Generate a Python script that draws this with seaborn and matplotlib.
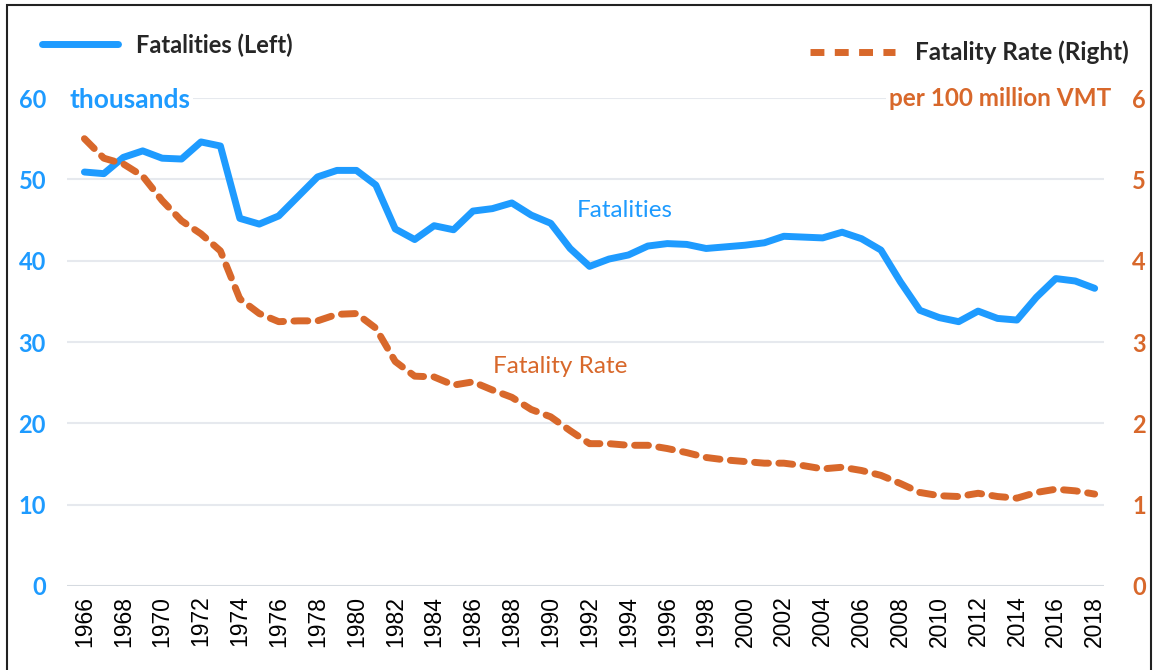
import numpy as np
import pandas as pd
import matplotlib.pyplot as plt
import seaborn as sns
from matplotlib.lines import Line2D
from matplotlib.patches import Rectangle

years = list(range(1966, 2019))
fatalities = [50.9, 50.7, 52.7, 53.5, 52.6, 52.5, 54.6, 54.1, 45.2, 44.5,
              45.5, 47.9, 50.3, 51.1, 51.1, 49.3, 43.9, 42.6, 44.3, 43.8,
              46.1, 46.4, 47.1, 45.6, 44.6, 41.5, 39.3, 40.2, 40.7, 41.8,
              42.1, 42.0, 41.5, 41.7, 41.9, 42.2, 43.0, 42.9, 42.8, 43.5,
              42.7, 41.3, 37.4, 33.9, 33.0, 32.5, 33.8, 32.9, 32.7, 35.5,
              37.8, 37.5, 36.6]
fatality_rate = [5.50, 5.26, 5.19, 5.04, 4.74, 4.49, 4.33, 4.12, 3.53, 3.35,
                 3.25, 3.26, 3.26, 3.34, 3.35, 3.17, 2.76, 2.58, 2.57, 2.47,
                 2.51, 2.41, 2.32, 2.17, 2.08, 1.91, 1.75, 1.75, 1.73, 1.73,
                 1.69, 1.64, 1.58, 1.55, 1.53, 1.51, 1.51, 1.48, 1.44, 1.46,
                 1.42, 1.36, 1.26, 1.15, 1.11, 1.10, 1.14, 1.10, 1.08, 1.15,
                 1.19, 1.17, 1.13]
left_ticks = [0, 10, 20, 30, 40, 50, 60]
right_ticks = [0, 1, 2, 3, 4, 5, 6]

df = pd.DataFrame({'year': years, 'fatalities': fatalities, 'rate': fatality_rate})

blue = '#1E9BFF'
orange = '#D8682B'
grid_col = '#E6E9EE'

sns.set_style('white')
plt.rcParams['font.family'] = ['Lato', 'DejaVu Sans']

fig = plt.figure(figsize=(11.54, 6.70), dpi=100)
ax = fig.add_axes([0.058, 0.1254, 0.899, 0.7283])
ax2 = ax.twinx()

sns.lineplot(data=df, x='year', y='fatalities', ax=ax, color=blue, lw=5,
             solid_joinstyle='round', zorder=3)
sns.lineplot(data=df, x='year', y='rate', ax=ax2, color=orange, lw=5,
             linestyle=(0, (2.0, 1.5)), dash_capstyle='round', zorder=3)

ax.set_ylim(0, 60)
ax2.set_ylim(0, 6)
ax.set_xlim(1965.1, 2018.5)
ax.set_yticks(left_ticks)
ax2.set_yticks(right_ticks)
ax.set_xticks(years[::2])
ax.set_xticklabels([str(y) for y in years[::2]], rotation=90,
                   fontfamily='Liberation Sans', fontsize=16.5, color='black')
ax.set_xlabel('')
ax.set_ylabel('')
ax2.set_ylabel('')

for y in left_ticks:
    ax.axhline(y, color='#D5DAE0' if y == 0 else grid_col, lw=1.5, zorder=0)

for a in (ax, ax2):
    for s in a.spines.values():
        s.set_visible(False)
ax.tick_params(axis='both', length=0)
ax2.tick_params(axis='both', length=0)
ax.tick_params(axis='y', pad=15, labelsize=17, labelcolor=blue)
ax2.tick_params(axis='y', pad=25, labelsize=17, labelcolor=orange)
ax.tick_params(axis='x', pad=7)
for t in ax.get_yticklabels():
    t.set_fontweight('bold')
for t in ax2.get_yticklabels():
    t.set_fontweight('bold')
    t.set_horizontalalignment('center')

# unit labels over the top gridline
fig.text(0.060, 0.851, 'thousands', color=blue, fontsize=19, fontweight='bold',
         va='center', ha='left', bbox=dict(facecolor='white', edgecolor='none', pad=2))
fig.text(0.963, 0.853, 'per 100 million VMT', color=orange, fontsize=17.5,
         fontweight='bold', va='center', ha='right',
         bbox=dict(facecolor='white', edgecolor='none', pad=2))

# series labels
ax.text(1993.8, 46.2, 'Fatalities', color=blue, fontsize=17.5, ha='center', va='center')
ax2.text(1990.5, 2.70, 'Fatality Rate', color=orange, fontsize=17.5, ha='center', va='center')

# legends
h1 = Line2D([], [], color=blue, lw=5)
h2 = Line2D([], [], color=orange, lw=5, linestyle=(0, (2.0, 1.5)))
leg1 = fig.legend([h1], ['Fatalities (Left)'], loc='center left',
                  bbox_to_anchor=(0.018, 0.933), frameon=False, handlelength=3.2,
                  handletextpad=0.8, prop={'weight': 'bold', 'size': 17})
leg2 = fig.legend([h2], ['Fatality Rate (Right)'], loc='center right',
                  bbox_to_anchor=(0.997, 0.922), frameon=False, handlelength=3.5,
                  handletextpad=0.8, prop={'weight': 'bold', 'size': 17.5})

# outer frame
fig.patches.append(Rectangle((0.006, -0.01), 0.991, 1.003, transform=fig.transFigure,
                             fill=False, edgecolor='#222222', lw=1.5))

fig.savefig('out.png', dpi=100)
